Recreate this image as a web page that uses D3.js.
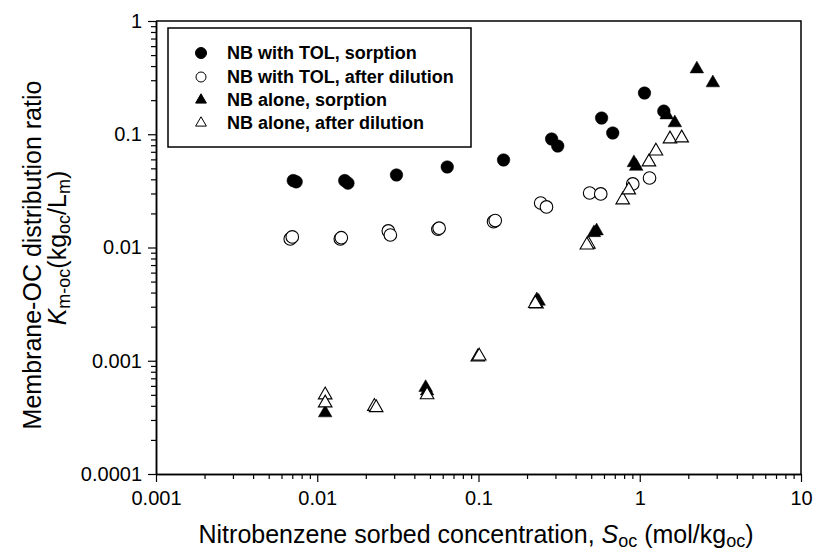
<!DOCTYPE html>
<html>
<head>
<meta charset="utf-8">
<script src="https://cdn.jsdelivr.net/npm/d3@7"></script>
<style>
body { margin: 0; background: #fff; }
.container text { font-family: "Liberation Sans", Arial, sans-serif; fill: #000; }
</style>
</head>
<body>
<div class="container"></div>
<script>

// NB with TOL, sorption (filled circles)
var tolSorbX = [0.0071, 0.0074, 0.0148, 0.0155, 0.031, 0.064, 0.143, 0.284, 0.31, 0.58, 0.68, 1.07, 1.41];
var tolSorbY = [0.039, 0.038, 0.039, 0.037, 0.0437, 0.0514, 0.0593, 0.0908, 0.0787, 0.139, 0.1026, 0.231, 0.160];

// NB with TOL, after dilution (open circles)
var tolDilX = [0.0068, 0.0070, 0.0139, 0.0141, 0.0276, 0.0284, 0.056, 0.057, 0.124, 0.127, 0.243, 0.264, 0.489, 0.573, 0.905, 1.15];
var tolDilY = [0.0119, 0.0124, 0.0119, 0.0122, 0.0140, 0.0129, 0.0145, 0.0148, 0.0169, 0.0173, 0.0247, 0.0228, 0.0303, 0.0297, 0.0364, 0.0411];

// NB alone, sorption (filled triangles)
var aloneSorbX = [0.0112, 0.047, 0.048, 0.23, 0.236, 0.52, 0.54, 0.92, 0.95, 1.47, 1.65, 2.26, 2.84];
var aloneSorbY = [0.000346, 0.00058, 0.00054, 0.00345, 0.00335, 0.0135, 0.0140, 0.056, 0.052, 0.148, 0.126, 0.377, 0.284];

// NB alone, after dilution (open triangles)
var aloneDilX = [0.0112, 0.0112, 0.0226, 0.0232, 0.048, 0.099, 0.101, 0.229, 0.225, 0.48, 0.47, 0.784, 0.855, 1.14, 1.26, 1.54, 1.82];
var aloneDilY = [0.000499, 0.000424, 0.000395, 0.000385, 0.0005, 0.00108, 0.0011, 0.00317, 0.0032, 0.0107, 0.0105, 0.0263, 0.0322, 0.0569, 0.0711, 0.0908, 0.0927];

var xTicks = [0.001, 0.01, 0.1, 1, 10];
var xTickLabels = ["0.001", "0.01", "0.1", "1", "10"];
var yTicks = [0.0001, 0.001, 0.01, 0.1, 1];
var yTickLabels = ["0.0001", "0.001", "0.01", "0.1", "1"];

var legendLabels = ["NB with TOL, sorption", "NB with TOL, after dilution", "NB alone, sorption", "NB alone, after dilution"];

var W = 816, H = 556;
var mLeft = 156, mRight = 801, mTop = 21, mBottom = 474;

var svg = d3.select(".container")
	.append("svg")
	.attr("width", W)
	.attr("height", H);

var x = d3.scaleLog().domain([0.001, 10]).range([mLeft, mRight]);
var y = d3.scaleLog().domain([0.0001, 1]).range([mBottom, mTop]);

function minorTicks(majors) {
	var out = [];
	for (var i = 0; i < majors.length - 1; i++) {
		for (var k = 2; k <= 9; k++) out.push(majors[i] * k);
	}
	return out;
}

function zip(xs, ys) {
	return xs.map(function(v, i) { return {x: v, y: ys[i]}; });
}

// frame (top + right)
svg.append("path")
	.attr("d", "M" + mLeft + "," + mTop + "H" + mRight + "V" + mBottom)
	.attr("fill", "none")
	.attr("stroke", "#000")
	.attr("stroke-width", 1.5);

// x axis
svg.append("g")
	.attr("transform", "translate(0," + mBottom + ")")
	.call(d3.axisBottom(x).tickValues(xTicks).tickSize(8).tickPadding(9).tickSizeOuter(0)
		.tickFormat(function(d, i) { return xTickLabels[i]; }));
svg.append("g")
	.attr("transform", "translate(0," + mBottom + ")")
	.call(d3.axisBottom(x).tickValues(minorTicks(xTicks)).tickSize(5).tickSizeOuter(0).tickFormat(""));

// y axis
svg.append("g")
	.attr("transform", "translate(" + mLeft + ",0)")
	.call(d3.axisLeft(y).tickValues(yTicks).tickSize(8).tickPadding(6).tickSizeOuter(0)
		.tickFormat(function(d, i) { return yTickLabels[i]; }));
svg.append("g")
	.attr("transform", "translate(" + mLeft + ",0)")
	.call(d3.axisLeft(y).tickValues(minorTicks(yTicks)).tickSize(5).tickSizeOuter(0).tickFormat(""));

svg.selectAll(".domain").attr("stroke-width", 1.5);
svg.selectAll(".tick line").attr("stroke-width", 1.2);
svg.selectAll(".tick text").style("font-size", "20px").attr("font-family", "Liberation Sans, Arial, sans-serif");

// axis titles
var xt = svg.append("text")
	.attr("x", 476)
	.attr("y", 543)
	.attr("text-anchor", "middle")
	.style("font-size", "25px");
xt.append("tspan").text("Nitrobenzene sorbed concentration, ");
xt.append("tspan").style("font-style", "italic").text("S");
xt.append("tspan").attr("dy", 4).style("font-size", "18px").text("oc");
xt.append("tspan").attr("dy", -4).text(" (mol/kg");
xt.append("tspan").attr("dy", 4).style("font-size", "18px").text("oc");
xt.append("tspan").attr("dy", -4).text(")");

svg.append("text")
	.attr("transform", "translate(41,255) rotate(-90)")
	.attr("text-anchor", "middle")
	.style("font-size", "25px")
	.text("Membrane-OC distribution ratio");

var yt = svg.append("text")
	.attr("transform", "translate(66,248) rotate(-90)")
	.attr("text-anchor", "middle")
	.style("font-size", "25px");
yt.append("tspan").style("font-style", "italic").text("K");
yt.append("tspan").attr("dy", 4).style("font-size", "18px").text("m-oc");
yt.append("tspan").attr("dy", -4).text("(kg");
yt.append("tspan").attr("dy", 4).style("font-size", "18px").text("oc");
yt.append("tspan").attr("dy", -4).text("/L");
yt.append("tspan").attr("dy", 4).style("font-size", "18px").text("m");
yt.append("tspan").attr("dy", -4).text(")");

// markers
var tri = d3.symbol().type(d3.symbolTriangle).size(80);

function drawCircles(data, filled) {
	svg.append("g").selectAll("circle")
		.data(data)
		.enter().append("circle")
		.attr("cx", function(d) { return x(d.x); })
		.attr("cy", function(d) { return y(d.y); })
		.attr("r", 6.3)
		.attr("fill", filled ? "#000" : "#fff")
		.attr("stroke", "#000")
		.attr("stroke-width", filled ? 0.5 : 1.1);
}

function drawTriangles(data, filled) {
	svg.append("g").selectAll("path")
		.data(data)
		.enter().append("path")
		.attr("d", tri)
		.attr("transform", function(d) { return "translate(" + x(d.x) + "," + y(d.y) + ")"; })
		.attr("fill", filled ? "#000" : "#fff")
		.attr("stroke", "#000")
		.attr("stroke-width", filled ? 0.5 : 1.1);
}

drawCircles(zip(tolSorbX, tolSorbY), true);
drawTriangles(zip(aloneSorbX, aloneSorbY), true);
drawCircles(zip(tolDilX, tolDilY), false);
drawTriangles(zip(aloneDilX, aloneDilY), false);

// legend
var lg = svg.append("g");
lg.append("rect")
	.attr("x", 168).attr("y", 28)
	.attr("width", 303).attr("height", 119)
	.attr("fill", "#fff")
	.attr("stroke", "#000")
	.attr("stroke-width", 1.5);

var rowY = [53, 77, 100, 123];
var legTri = d3.symbol().type(d3.symbolTriangle).size(50);
legendLabels.forEach(function(lab, i) {
	var filled = (i % 2 === 0);
	if (i < 2) {
		lg.append("circle")
			.attr("cx", 201).attr("cy", rowY[i])
			.attr("r", filled ? 5.5 : 5)
			.attr("fill", filled ? "#000" : "#fff")
			.attr("stroke", "#000")
			.attr("stroke-width", 1);
	} else {
		lg.append("path")
			.attr("d", legTri)
			.attr("transform", "translate(201," + rowY[i] + ")")
			.attr("fill", filled ? "#000" : "#fff")
			.attr("stroke", "#000")
			.attr("stroke-width", 1);
	}
	lg.append("text")
		.attr("x", 227).attr("y", rowY[i])
		.attr("dy", "0.36em")
		.style("font-size", "18px")
		.style("font-weight", "bold")
		.text(lab);
});

</script>
</body>
</html>
